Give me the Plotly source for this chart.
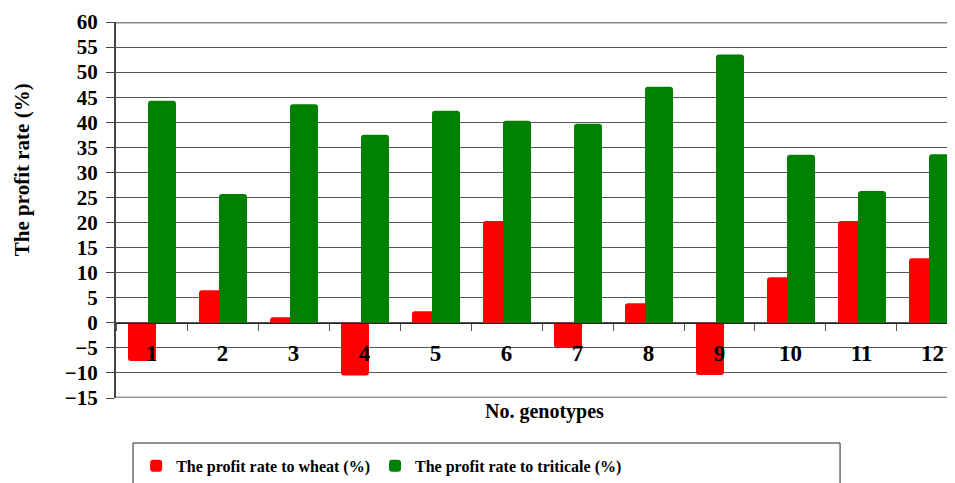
import plotly.graph_objects as go

genotypes = ["1", "2", "3", "4", "5", "6", "7", "8", "9", "10", "11", "12"]
wheat = [-7.6, 6.5, 1.1, -10.5, 2.3, 20.3, -5.0, 3.9, -10.4, 9.1, 20.3, 12.9]
triticale = [44.3, 25.7, 43.6, 37.5, 42.3, 40.3, 39.7, 47.1, 53.5, 33.5, 26.3, 33.6]
y_ticks = list(range(-15, 61, 5))

xpos = list(range(1, len(genotypes) + 1))
FONT = "Liberation Serif"

fig = go.Figure()
fig.add_trace(go.Bar(
    x=xpos, y=wheat, name="The profit rate to wheat (%)",
    marker=dict(color="#FF0000", cornerradius=3, line=dict(width=0)),
    offset=-0.331, width=0.394,
))
fig.add_trace(go.Bar(
    x=xpos, y=triticale, name="The profit rate to triticale (%)",
    marker=dict(color="#008000", cornerradius=3, line=dict(width=0)),
    offset=-0.049, width=0.394,
))

fig.update_layout(
    width=947, height=475,
    margin=dict(l=108, r=0, t=14, b=85, autoexpand=False),
    plot_bgcolor="white", paper_bgcolor="white",
    barmode="overlay",
    font=dict(family=FONT, color="black"),
    showlegend=True,
    legend=dict(
        orientation="h", x=0.024, y=-0.135, xanchor="left", yanchor="top",
        font=dict(family=FONT, size=16, weight="bold", color="black"),
        bgcolor="rgba(0,0,0,0)", borderwidth=0,
        itemwidth=30, traceorder="normal",
    ),
    xaxis=dict(
        range=[0.5, 12.317], automargin=False,
        tickvals=xpos, ticktext=genotypes,
        ticks="", showgrid=False, zeroline=False,
        anchor="free", position=0.2,
        showline=True, linecolor="#222", linewidth=1,
        tickfont=dict(family=FONT, size=23, weight="bold", color="black"),
        ticklabelstandoff=10,
        minor=dict(ticks="outside", tick0=0.5, dtick=1, ticklen=7, tickcolor="#555", tickwidth=1),
    ),
    yaxis=dict(
        range=[-15, 60], tickvals=y_ticks, automargin=False,
        showgrid=True, gridcolor="#555", gridwidth=1,
        zeroline=False,
        showline=True, linecolor="#444", linewidth=2,
        ticks="outside", ticklen=8, tickcolor="#444", tickwidth=1,
        tickfont=dict(family=FONT, size=21, weight="bold", color="black"),
        ticklabelstandoff=4,
    ),
    shapes=[
        dict(type="line", xref="paper", yref="y", x0=0, x1=1, y0=60, y1=60,
             line=dict(color="#8a8a8a", width=3)),
        dict(type="line", xref="paper", yref="y", x0=0, x1=1, y0=-15, y1=-15,
             line=dict(color="#999", width=3)),
        dict(type="rect", xref="paper", yref="paper", x0=0.0203, x1=0.863, y0=-0.5, y1=-0.1197,
             line=dict(color="#222", width=1), fillcolor="rgba(0,0,0,0)"),
    ],
    annotations=[
        dict(text="The profit rate (%)", textangle=-90, xref="paper", yref="paper",
             x=-0.112, y=0.606, xanchor="center", yanchor="middle", showarrow=False,
             font=dict(family=FONT, size=21, weight="bold", color="black")),
        dict(text="No. genotypes", xref="paper", yref="paper",
             x=0.511, y=-0.0346, xanchor="center", yanchor="middle", showarrow=False,
             font=dict(family=FONT, size=20, weight="bold", color="black")),
    ],
)

fig.write_html("out.html")
